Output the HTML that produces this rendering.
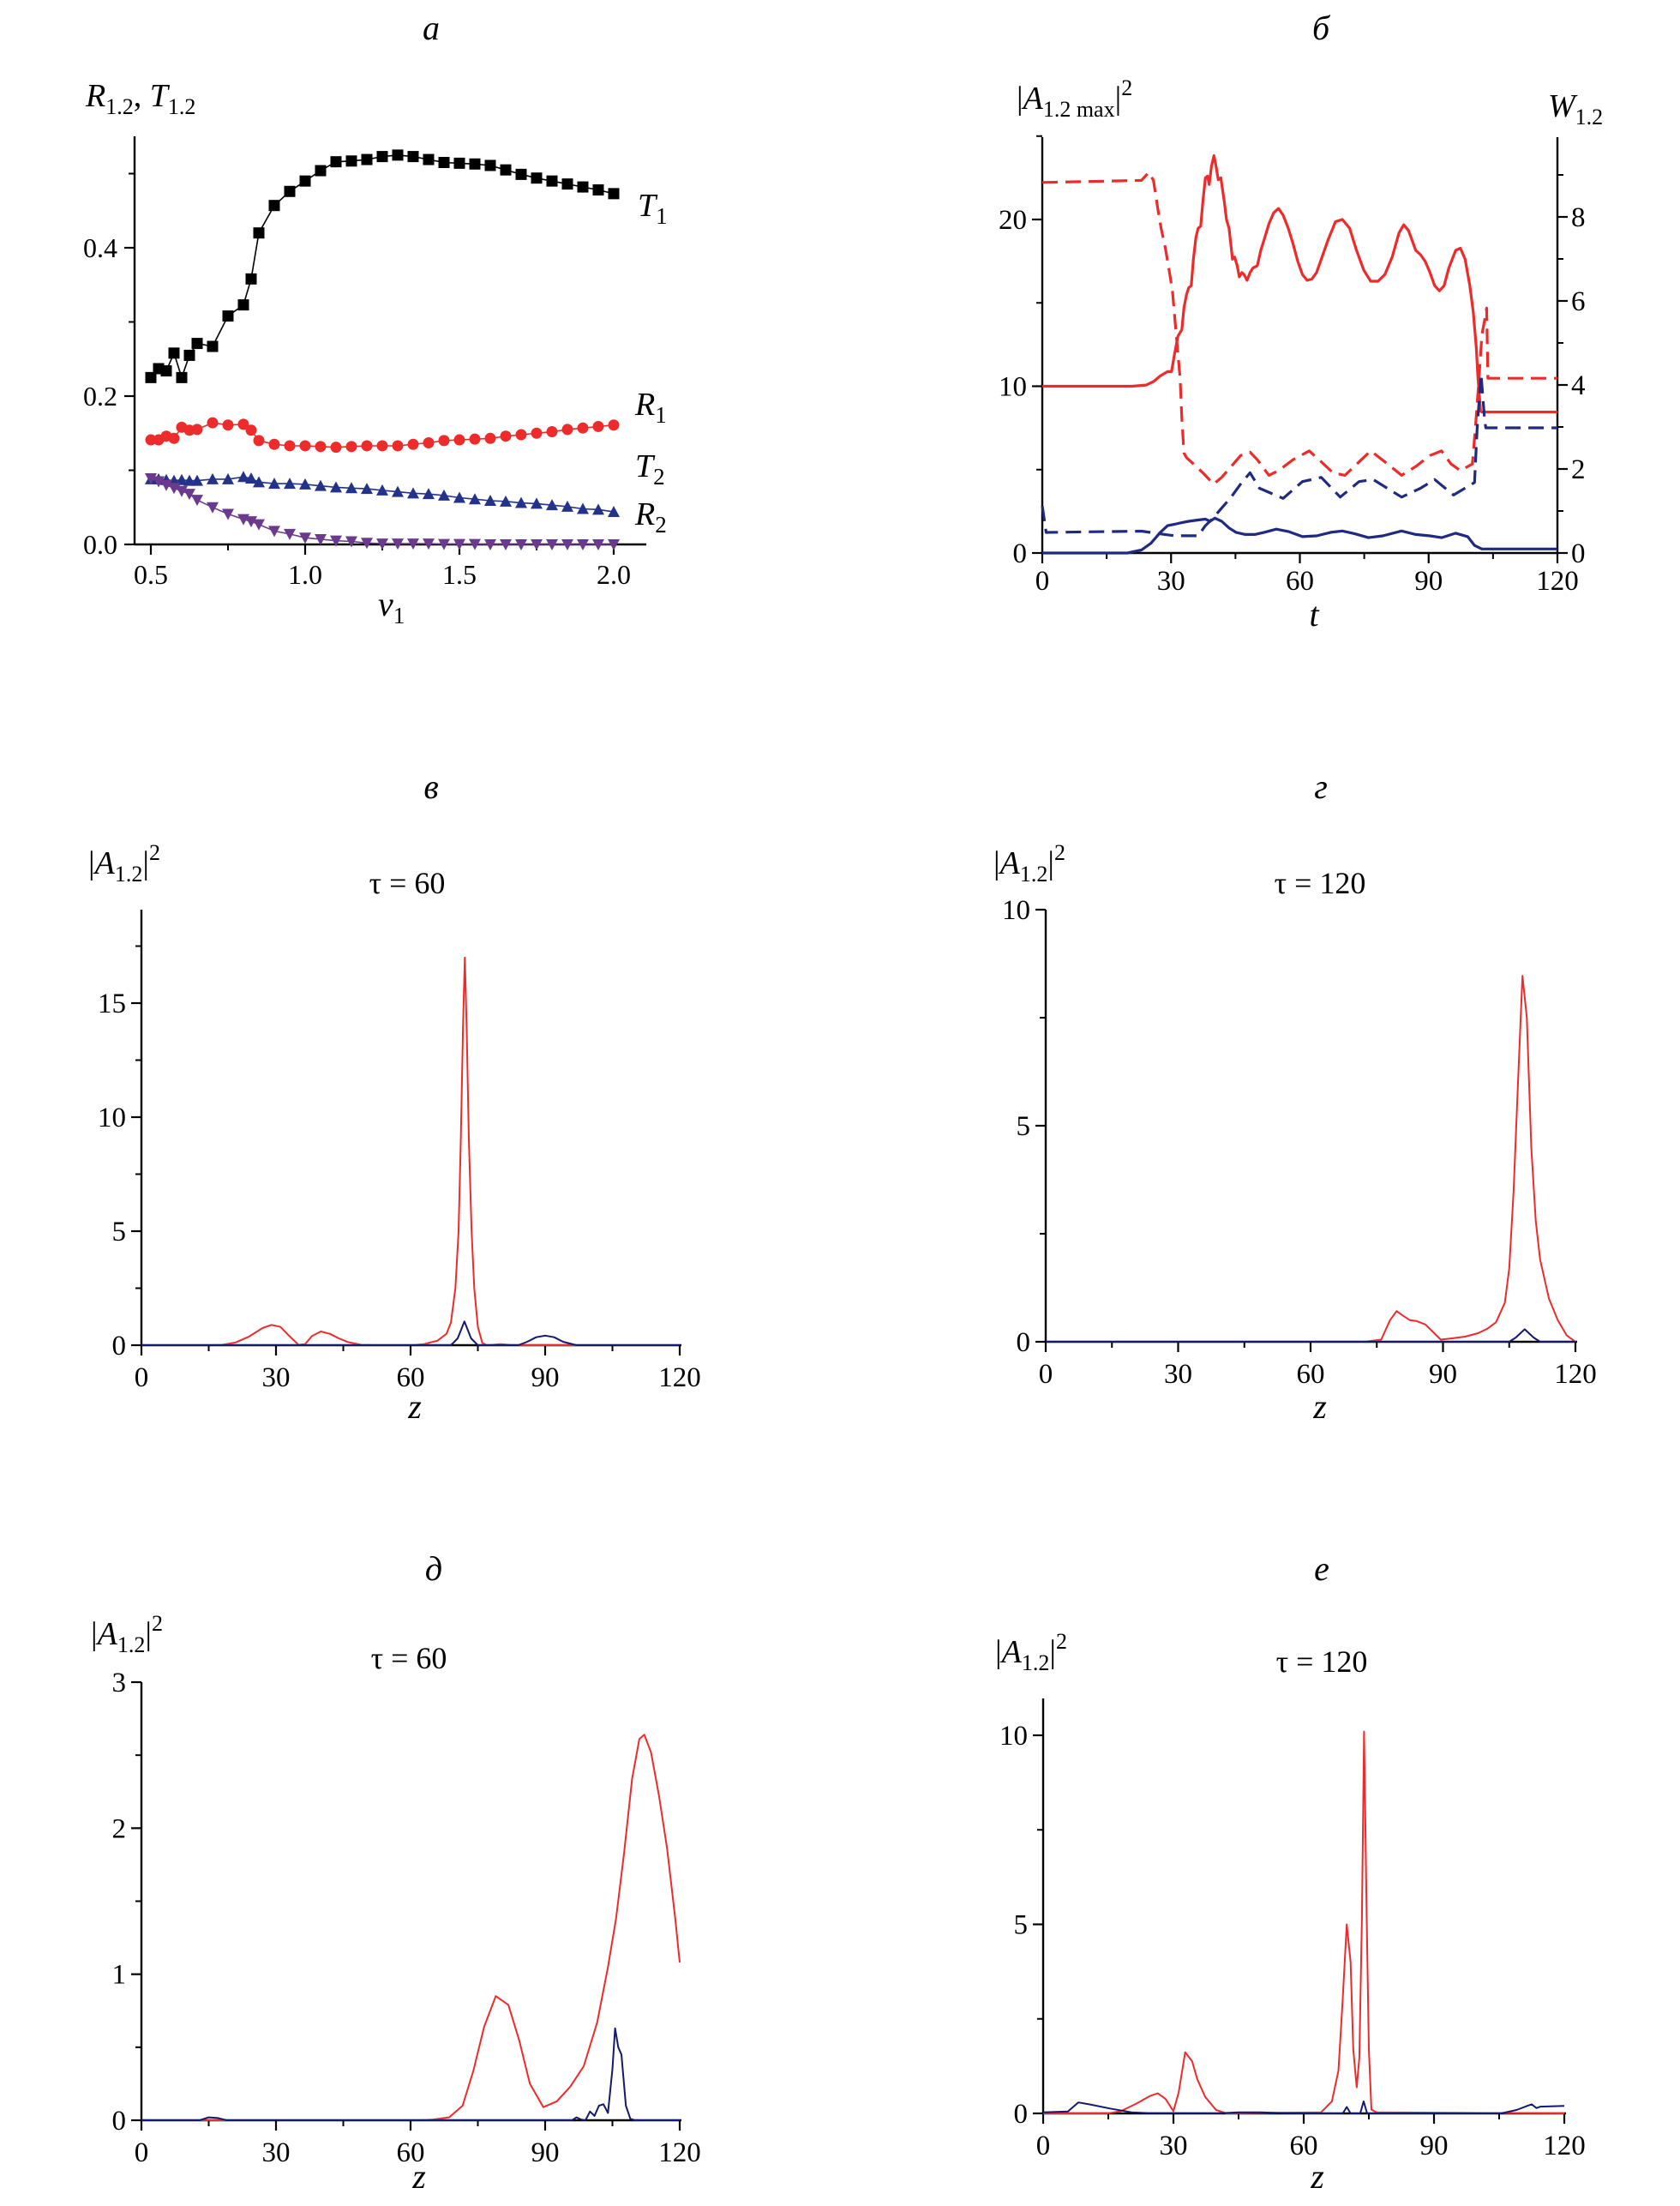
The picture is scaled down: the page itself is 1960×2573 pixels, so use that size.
<!DOCTYPE html>
<html><head><meta charset="utf-8"><style>
html,body{margin:0;padding:0;background:#fff;}
svg{display:block;font-family:"Liberation Serif","DejaVu Serif",serif;}
</style></head><body>
<svg id="fig" width="1960" height="2573" viewBox="0 0 1960 2573" xmlns="http://www.w3.org/2000/svg"></svg>
<script>
// ---------- Panel a data ----------
const aX = [0.5,0.525,0.55,0.575,0.6,0.625,0.65,0.7,0.75,0.8,0.825,0.85,0.9,0.95,1.0,1.05,1.1,1.15,1.2,1.25,1.3,1.35,1.4,1.45,1.5,1.55,1.6,1.65,1.7,1.75,1.8,1.85,1.9,1.95,2.0];
const aT1 = [0.225,0.237,0.234,0.258,0.225,0.255,0.271,0.267,0.308,0.323,0.358,0.42,0.457,0.476,0.49,0.504,0.516,0.517,0.519,0.523,0.525,0.523,0.519,0.515,0.514,0.513,0.511,0.505,0.499,0.494,0.49,0.486,0.482,0.478,0.473];
const aR1 = [0.141,0.141,0.146,0.143,0.158,0.154,0.155,0.164,0.161,0.162,0.154,0.14,0.135,0.133,0.133,0.132,0.131,0.132,0.133,0.133,0.133,0.135,0.137,0.14,0.141,0.142,0.143,0.146,0.148,0.15,0.152,0.155,0.157,0.159,0.161];
const aT2 = [0.088,0.088,0.087,0.086,0.087,0.086,0.086,0.088,0.088,0.091,0.089,0.084,0.082,0.082,0.081,0.079,0.077,0.076,0.075,0.073,0.071,0.069,0.068,0.066,0.063,0.061,0.059,0.058,0.056,0.055,0.053,0.051,0.048,0.047,0.044];
const aR2 = [0.089,0.085,0.080,0.076,0.072,0.068,0.060,0.050,0.041,0.034,0.031,0.027,0.018,0.014,0.009,0.007,0.005,0.004,0.002,0.001,0.001,0.001,0.001,0.0005,0.0005,0.0005,0.0,0.0,0.0,0.0,0.0,0.0,0.0,0.0,0.0];
const aXTicks = [0.5,1.0,1.5,2.0];
const aXTickLabels = ["0.5","1.0","1.5","2.0"];
const aYTicks = [0.0,0.2,0.4];
const aYTickLabels = ["0.0","0.2","0.4"];

// ---------- Panel b data ----------
const bRedSolidT = [0,20.9,24.2,25.9,27.5,29.2,30.1,30.8,31.6,32.5,33.0,33.6,34.1,34.7,35.2,35.8,36.3,36.9,37.4,38.0,38.5,38.9,39.4,40.0,40.5,41.0,41.6,42.4,42.9,43.5,44.3,44.8,45.4,45.9,46.5,47.0,47.7,48.4,49.1,50.1,50.9,51.7,52.8,53.9,55.0,56.1,57.3,58.4,59.5,60.6,61.7,62.8,63.9,65.0,66.6,68.3,69.9,71.6,73.2,74.9,76.5,78.2,79.8,81.5,83.1,84.2,85.3,87.0,88.1,89.2,90.3,91.4,92.5,93.6,94.7,96.3,97.4,98.5,99.6,100.4,101.1,101.5,102.1,102.4,120];
const bRedSolidV = [10,10,10.07,10.28,10.62,10.88,10.88,11.94,13.0,13.39,14.71,15.5,15.9,16.03,17.62,18.94,19.47,19.6,21.05,22.5,22.6,22.1,23.17,23.83,23.17,22.38,22.5,21.05,20.0,19.47,17.62,17.75,17.23,16.56,16.82,16.7,16.35,16.82,17.1,17.23,18.15,18.8,19.74,20.4,20.66,20.26,19.47,18.55,17.5,16.7,16.35,16.43,16.82,17.62,18.8,19.87,20.0,19.47,18.15,16.96,16.3,16.3,16.7,17.75,19.2,19.68,19.34,18.15,17.89,17.49,16.82,16.03,15.72,16.03,17.09,18.15,18.28,17.62,16.03,14.45,12.34,10.49,8.51,8.45,8.45];
const bRedDashT = [0,23.1,24.8,25.9,27.0,27.7,28.6,29.5,30.3,31.1,32.1,32.5,33.0,33.6,35.2,37.4,39.9,41.8,44.0,46.2,48.4,50.1,52.8,55.0,58.4,62.2,65.0,67.7,70.5,73.8,76.5,79.8,83.7,87.0,90.3,93.0,95.2,97.4,100.2,101.0,101.6,102.4,103.0,103.5,103.8,120];
const bRedDashW = [8.82,8.87,9.06,8.87,8.14,7.72,7.3,6.77,6.25,5.31,4.16,3.21,2.38,2.27,2.12,1.91,1.64,1.8,2.06,2.32,2.4,2.22,1.85,1.96,2.22,2.43,2.17,1.91,1.85,2.17,2.43,2.17,1.85,2.06,2.32,2.43,2.12,1.96,2.12,3.11,3.95,5.2,5.52,5.83,4.16,4.16];
const bBlueSolidT = [0,19.8,23.1,25.3,27.5,29.2,30.8,32.5,34.1,36.3,38.0,39.1,40.2,41.8,43.5,45.1,47.3,49.5,51.7,54.5,57.3,60.6,63.9,67.2,69.9,72.7,76.0,79.3,83.7,87.0,90.3,93.0,96.3,99.1,100.7,102.4,120];
const bBlueSolidV = [0,0,0.18,0.58,1.24,1.64,1.72,1.82,1.9,1.98,2.03,1.9,2.09,1.9,1.5,1.24,1.11,1.11,1.24,1.43,1.29,0.98,1.03,1.24,1.32,1.16,0.92,1.03,1.32,1.11,1.03,0.92,1.19,0.98,0.45,0.24,0.24];
const bBlueDashT = [0,0.9,23.1,28.6,30.8,36.3,38.0,39.6,41.8,44.0,46.2,48.4,50.6,56.1,60.6,65.0,69.4,73.8,77.1,83.7,88.1,91.4,95.8,100.7,101.3,102.2,103.0,103.3,120];
const bBlueDashW = [1.12,0.49,0.52,0.44,0.41,0.41,0.65,0.81,1.07,1.33,1.64,1.91,1.54,1.3,1.7,1.8,1.33,1.7,1.75,1.33,1.54,1.75,1.38,1.68,2.95,4.26,3.21,2.98,2.98];
const bXTicks = [0,30,60,90,120];
const bXTickLabels = ["0","30","60","90","120"];
const bLeftTicks = [0,10,20];
const bLeftTickLabels = ["0","10","20"];
const bRightTicks = [0,2,4,6,8];
const bRightTickLabels = ["0","2","4","6","8"];

// ---------- Panel v (в) data ----------
const vRedZ = [0,15,18,21,24,27,29,31,33,35,36.5,38,40,42,44,46,49,52,60,63,66,68,69,70,70.7,71.2,71.7,72.1,72.5,73,73.6,74.2,75,76,77,80,82,85,120];
const vRedA = [0,0,0.02,0.12,0.38,0.75,0.89,0.8,0.4,0.02,0.05,0.4,0.6,0.5,0.3,0.14,0.02,0,0,0.05,0.2,0.5,1.0,2.5,5,9,14,17.0,14,9,5,2.5,0.8,0.1,0,0.05,0.02,0,0];
const vBlueZ = [0,69,70.5,72,73.5,75,84,86,88,90,92,94,97,120];
const vBlueA = [0,0,0.3,1.04,0.3,0,0,0.15,0.35,0.42,0.35,0.15,0,0];
const vYTicks = [0,5,10,15];
const vYTickLabels = ["0","5","10","15"];

// ---------- Panel g (г) data ----------
const gRedZ = [0,72,76,78,79.5,81,82.5,84,86,88,89.5,92,95,98,100,102,104,105,106,107,108,109,110,111,112,114,116,118,120];
const gRedA = [0,0,0.05,0.5,0.71,0.6,0.5,0.48,0.4,0.2,0.05,0.08,0.12,0.2,0.3,0.45,0.9,1.7,3.5,6,8.47,7.5,4.5,2.8,1.9,1.0,0.5,0.15,0];
const gBlueZ = [0,105,106.5,108.5,110.5,112,120];
const gBlueA = [0,0,0.1,0.29,0.1,0,0];
const gYTicks = [0,5,10];
const gYTickLabels = ["0","5","10"];

// ---------- Panel d (д) data ----------
const dRedZ = [0,62,65,68.6,71.6,74,76.4,79,81.8,84.2,86.6,89.6,92.6,95.6,98.6,101.6,104,105.8,107.6,109.4,111,112.1,113.6,115.4,117.2,119,120];
const dRedA = [0,0,0.005,0.02,0.1,0.34,0.64,0.85,0.79,0.55,0.25,0.09,0.13,0.23,0.37,0.67,1.05,1.38,1.83,2.34,2.61,2.64,2.52,2.22,1.86,1.38,1.08];
const dBlueZ = [0,13,15,17,19,96,97,98,99,100,101,102,103,104,105,105.6,106.3,107,108,109,110,120];
const dBlueA = [0,0,0.02,0.015,0,0,0.02,0.005,0,0.06,0.03,0.1,0.11,0.05,0.35,0.63,0.5,0.45,0.1,0.01,0,0];
const dYTicks = [0,1,2,3];
const dYTickLabels = ["0","1","2","3"];

// ---------- Panel e (е) data ----------
const eRedZ = [0,15,17.9,21.5,24.6,26.4,28.2,30,31.2,32.7,34.3,35.5,37.3,39.8,42.2,64,66.5,68,68.9,69.9,70.8,71.4,72.2,72.8,73.4,73.9,74.5,75,75.6,76.8,120];
const eRedA = [0,0,0.06,0.26,0.46,0.53,0.38,0.06,0.55,1.62,1.38,0.9,0.44,0.09,0,0.03,0.32,1.13,2.86,5.0,4.0,1.7,0.69,1.47,5.16,10.1,5.16,1.7,0.1,0.03,0];
const eBlueZ = [0,5.7,8.1,10.6,15.4,20.3,24,40,45,50,55,60,69,69.9,70.8,73,73.8,74.6,105.4,109,111.5,112.5,113.6,114.5,120];
const eBlueA = [0.03,0.05,0.29,0.24,0.13,0.03,0.01,0,0.03,0.03,0.01,0,0,0.17,0,0,0.32,0,0,0.09,0.2,0.24,0.14,0.18,0.2];
const eYTicks = [0,5,10];
const eYTickLabels = ["0","5","10"];

const zTicks = [0,30,60,90,120];
const zTickLabels = ["0","30","60","90","120"];

// ---------- helpers ----------
const NS = "http://www.w3.org/2000/svg";
const svg = document.getElementById('fig');
function el(tag, attrs, parent){
  const e = document.createElementNS(NS, tag);
  for (const k in attrs) e.setAttribute(k, attrs[k]);
  (parent||svg).appendChild(e);
  return e;
}
function lin(d0,d1,r0,r1){ return v => r0 + (v-d0)*(r1-r0)/(d1-d0); }
function pathD(xs, ys, sx, sy){
  let d='';
  for(let i=0;i<xs.length;i++){ d += (i?'L':'M') + sx(xs[i]).toFixed(1) + ',' + sy(ys[i]).toFixed(1); }
  return d;
}
function text(parent, x, y, str, size, anchor, italic){
  const t = el('text', {x:x, y:y, 'font-size':size, 'text-anchor':anchor||'middle', fill:'#000'}, parent);
  if (italic) t.setAttribute('font-style','italic');
  t.textContent = str;
  return t;
}
function line(parent,x1,y1,x2,y2,w){ return el('line',{x1:x1,y1:y1,x2:x2,y2:y2,stroke:'#000','stroke-width':w||2.2},parent); }

// generic lower panel
function lowerPanel(name, cfg){
  const g = el('g', {}, svg);
  
  
  const sx = lin(0,120,cfg.x0,cfg.x1);
  const sy = lin(0,cfg.yRef,cfg.y0,cfg.yRefPx);
  // axes
  const ax = line(g,cfg.x0,cfg.y0,cfg.x1+2,cfg.y0,2.4);
   
  const ay = line(g,cfg.x0,cfg.y0,cfg.x0,cfg.yTop,2.4);
   
  for(let i=0;i<zTicks.length;i++){
    const x = sx(zTicks[i]);
    line(g,x,cfg.y0,x,cfg.y0+12,2.2);
    const t = text(g,x,cfg.y0+48,zTickLabels[i],33,'middle');
     
    if(i<zTicks.length-1){ const xm = sx(zTicks[i]+15); line(g,xm,cfg.y0,xm,cfg.y0+7,2); }
  }
  for(let i=0;i<cfg.yTicks.length;i++){
    const y = sy(cfg.yTicks[i]);
    line(g,cfg.x0-12,y,cfg.x0,y,2.2);
    const t = text(g,cfg.x0-18,y+11,cfg.yTickLabels[i],33,'end');
     
    const ym = sy(cfg.yTicks[i]+cfg.minor);
    if (ym > cfg.yTop-1) line(g,cfg.x0-7,ym,cfg.x0,ym,2);
  }
  const pr = el('path',{d:pathD(cfg.redZ,cfg.redA,sx,sy),fill:'none',stroke:'#ee2b2b','stroke-width':2,'stroke-linejoin':'round'},g);
   
  const pb = el('path',{d:pathD(cfg.blueZ,cfg.blueA,sx,sy),fill:'none',stroke:'#14196e','stroke-width':2,'stroke-linejoin':'round'},g);
   
  // title letter
  const tl = text(g,cfg.titleX,cfg.titleY,cfg.title,40,'middle',true);
   
  // tau
  const tt = text(g,cfg.tauX,cfg.tauY,cfg.tau,36,'middle');
   
  // y label
  const yl = el('text',{x:cfg.ylX,y:cfg.ylY,'font-size':38,fill:'#000'},g);
   
  yl.innerHTML = '|<tspan font-style="italic">A</tspan><tspan font-size="26" dy="9">1.2</tspan><tspan dy="-9">|</tspan><tspan font-size="26" dy="-16">2</tspan>';
  const zl = text(g,cfg.zX,cfg.zY,'z',40,'middle',true);
   
}

// ---------- Panel a ----------
(function(){
  const g = el('g', {}, svg);
  
  
  const sx = lin(0.5,2.0,176,716);
  const sy = lin(0,0.4,635,289);
  const ax = line(g,157,635,754,635,2.4);
   
  const ay = line(g,157,635,157,159,2.4);
   
  for(let i=0;i<aXTicks.length;i++){
    const x = sx(aXTicks[i]);
    line(g,x,635,x,647,2.2);
    const t = text(g,x,681,aXTickLabels[i],32,'middle');
     
    if(i<aXTicks.length-1){ const xm = sx(aXTicks[i]+0.25); line(g,xm,635,xm,642,2); }
  }
  for(let i=0;i<aYTicks.length;i++){
    const y = sy(aYTicks[i]);
    line(g,145,y,157,y,2.2);
    const t = text(g,137,y+11,aYTickLabels[i],32,'end');
     
  }
  [0.1,0.3,0.5].forEach(v=>{ const y=sy(v); line(g,150,y,157,y,2); });
  const series = [
    {name:'T1',ys:aT1,color:'#000',marker:'square'},
    {name:'R1',ys:aR1,color:'#ee2b2b',marker:'circle'},
    {name:'T2',ys:aT2,color:'#24338a',marker:'up'},
    {name:'R2',ys:aR2,color:'#6b3a8c',marker:'down'}
  ];
  series.forEach(s=>{
    const p = el('path',{d:pathD(aX,s.ys,sx,sy),fill:'none',stroke:s.color,'stroke-width':1.6},g);
     
    for(let i=0;i<aX.length;i++){
      const x=sx(aX[i]), y=sy(s.ys[i]); let m;
      if(s.marker==='square') m = el('rect',{x:x-6.5,y:y-6.5,width:13,height:13,fill:s.color},g);
      else if(s.marker==='circle') m = el('circle',{cx:x,cy:y,r:6.5,fill:s.color},g);
      else if(s.marker==='up') m = el('polygon',{points:`${x-7},${y+6} ${x+7},${y+6} ${x},${y-7}`,fill:s.color},g);
      else m = el('polygon',{points:`${x-7},${y-6} ${x+7},${y-6} ${x},${y+7}`,fill:s.color},g);
      
      
    }
  });
  const labs = [['T','1',744,252],['R','1',741,484],['T','2',741,556],['R','2',741,612]];
  labs.forEach(l=>{
    const t = el('text',{x:l[2],y:l[3],'font-size':38,fill:'#000'},g);
     
    t.innerHTML = `<tspan font-style="italic">${l[0]}</tspan><tspan font-size="27" dy="9">${l[1]}</tspan>`;
  });
  const tl = text(g,503,46,'а',40,'middle',true);
   
  const yl = el('text',{x:100,y:124,'font-size':38,fill:'#000'},g);
   
  yl.innerHTML = '<tspan font-style="italic">R</tspan><tspan font-size="26" dy="9">1.2</tspan><tspan dy="-9">, </tspan><tspan font-style="italic">T</tspan><tspan font-size="26" dy="9">1.2</tspan>';
  const xl = el('text',{x:441,y:718,'font-size':40,fill:'#000'},g);
   
  xl.innerHTML = '<tspan font-style="italic">v</tspan><tspan font-size="27" dy="9">1</tspan>';
})();

// ---------- Panel b ----------
(function(){
  const g = el('g', {}, svg);
  
  
  const sx = lin(0,120,1216,1817);
  const syL = lin(0,20,645,256);
  const syR = lin(0,8,645,253);
  const ax = line(g,1216,645,1817,645,2.4);
   
  const ay = line(g,1216,645,1216,160,2.4);
   
  const ay2 = line(g,1817,645,1817,160,2.4);
   
  for(let i=0;i<bXTicks.length;i++){
    const x = sx(bXTicks[i]);
    line(g,x,645,x,657,2.2);
    const t = text(g,x,688,bXTickLabels[i],33,'middle');
     
    if(i<bXTicks.length-1){ const xm=sx(bXTicks[i]+15); line(g,xm,645,xm,652,2); }
  }
  for(let i=0;i<bLeftTicks.length;i++){
    const y = syL(bLeftTicks[i]);
    line(g,1204,y,1216,y,2.2);
    const t = text(g,1198,y+11,bLeftTickLabels[i],33,'end');
     
  }
  [5,15,25].forEach(v=>{ const y=syL(v); line(g,1209,y,1216,y,2); });
  for(let i=0;i<bRightTicks.length;i++){
    const y = syR(bRightTicks[i]);
    line(g,1817,y,1829,y,2.2);
    const t = text(g,1833,y+11,bRightTickLabels[i],33,'start');
     
  }
  [1,3,5,7,9].forEach(v=>{ const y=syR(v); line(g,1817,y,1824,y,2); });
  const curves = [
    ['red-solid-amplitude',bRedSolidT,bRedSolidV,syL,'#ee2b2b',null],
    ['red-dashed-w',bRedDashT,bRedDashW,syR,'#ee2b2b','18 9'],
    ['blue-solid-amplitude',bBlueSolidT,bBlueSolidV,syL,'#1f2a80',null],
    ['blue-dashed-w',bBlueDashT,bBlueDashW,syR,'#1f2a80','18 9']
  ];
  curves.forEach(c=>{
    const p = el('path',{d:pathD(c[1],c[2],sx,c[3]),fill:'none',stroke:c[4],'stroke-width':3.2,'stroke-linejoin':'round'},g);
    if(c[5]) p.setAttribute('stroke-dasharray',c[5]);
     
  });
  const tl = text(g,1541,46,'б',40,'middle',true);
   
  const yl = el('text',{x:1186,y:127,'font-size':38,fill:'#000'},g);
   
  yl.innerHTML = '|<tspan font-style="italic">A</tspan><tspan font-size="26" dy="9">1.2 max</tspan><tspan dy="-9">|</tspan><tspan font-size="26" dy="-16">2</tspan>';
  const yr = el('text',{x:1806,y:136,'font-size':38,fill:'#000'},g);
   
  yr.innerHTML = '<tspan font-style="italic">W</tspan><tspan font-size="26" dy="9">1.2</tspan>';
  const xl = text(g,1533,730,'t',40,'middle',true);
   
})();

lowerPanel('panel-v',{x0:165,x1:793,y0:1569,yTop:1061,yRef:15,yRefPx:1170,minor:2.5,yTicks:vYTicks,yTickLabels:vYTickLabels,
  redZ:vRedZ,redA:vRedA,blueZ:vBlueZ,blueA:vBlueA,title:'в',titleX:503,titleY:931,tau:'τ = 60',tauX:475,tauY:1042,ylX:103,ylY:1019,zX:484,zY:1654});
lowerPanel('panel-g',{x0:1220,x1:1838,y0:1565,yTop:1061,yRef:10,yRefPx:1061,minor:2.5,yTicks:gYTicks,yTickLabels:gYTickLabels,
  redZ:gRedZ,redA:gRedA,blueZ:gBlueZ,blueA:gBlueA,title:'г',titleX:1541,titleY:931,tau:'τ = 120',tauX:1540,tauY:1042,ylX:1159,ylY:1019,zX:1540,zY:1654});
lowerPanel('panel-d',{x0:165,x1:793,y0:2473,yTop:1962,yRef:3,yRefPx:1962,minor:0.5,yTicks:dYTicks,yTickLabels:dYTickLabels,
  redZ:dRedZ,redA:dRedA,blueZ:dBlueZ,blueA:dBlueA,title:'д',titleX:506,titleY:1843,tau:'τ = 60',tauX:477,tauY:1946,ylX:106,ylY:1918,zX:489,zY:2552});
lowerPanel('panel-e',{x0:1217,x1:1825,y0:2465,yTop:1981,yRef:10,yRefPx:2024,minor:2.5,yTicks:eYTicks,yTickLabels:eYTickLabels,
  redZ:eRedZ,redA:eRedA,blueZ:eBlueZ,blueA:eBlueA,title:'е',titleX:1542,titleY:1843,tau:'τ = 120',tauX:1542,tauY:1950,ylX:1161,ylY:1939,zX:1537,zY:2552});
</script>
</body></html>
